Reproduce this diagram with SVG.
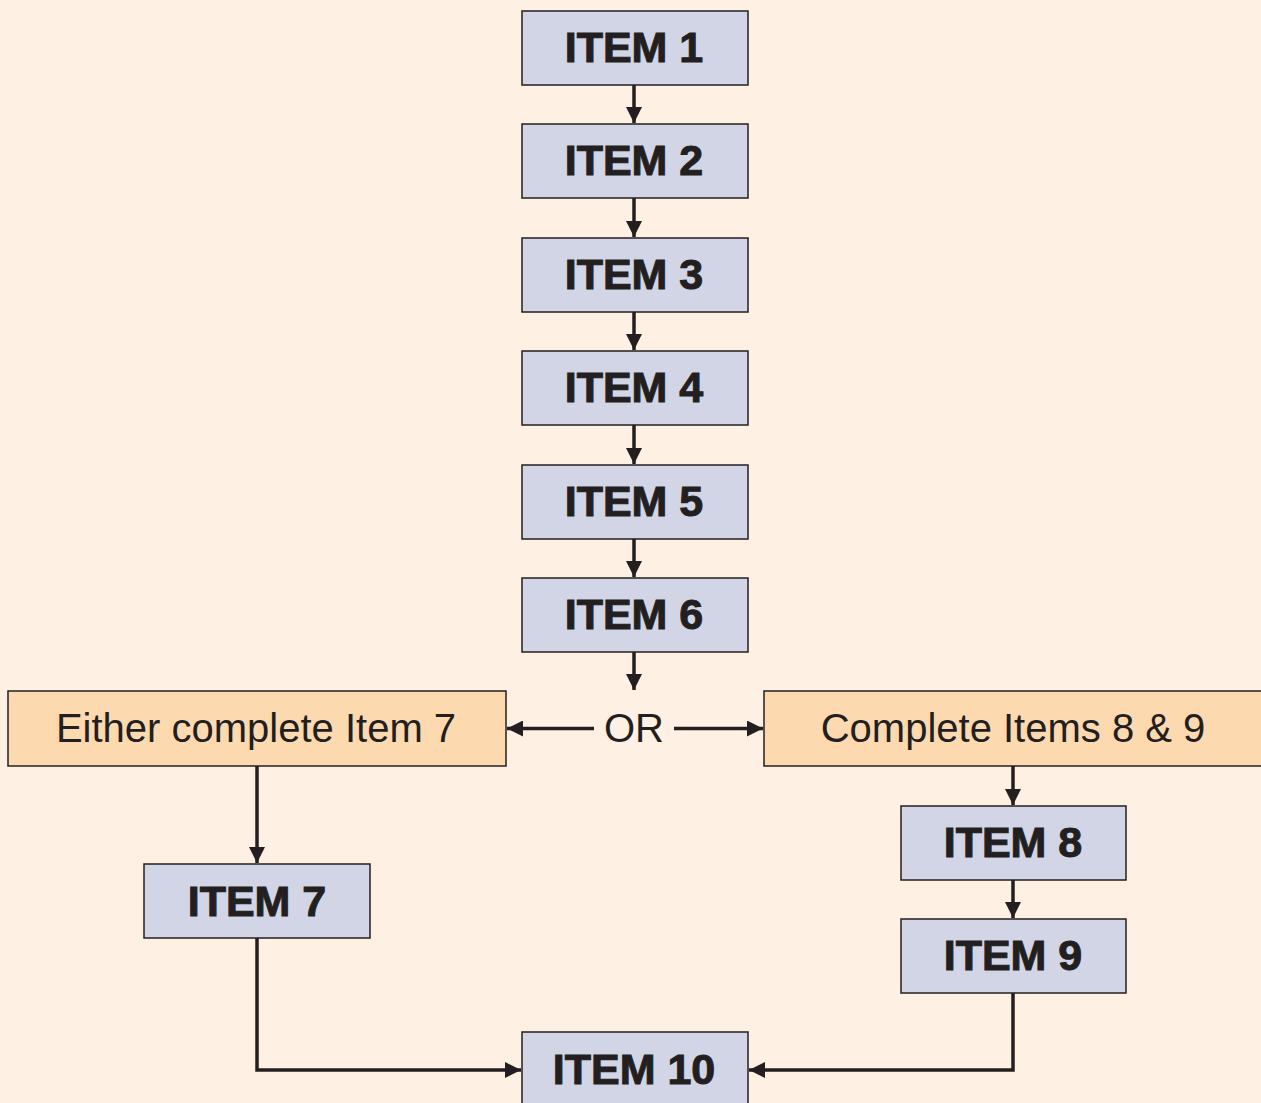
<svg xmlns="http://www.w3.org/2000/svg" width="1261" height="1103" viewBox="0 0 1261 1103">
<style>
.item rect{fill:#d1d5e6;stroke:#231f20;stroke-width:1.5}
.item text{font-family:"Liberation Sans",Arial,sans-serif;font-weight:bold;font-size:43px;fill:#231f20;stroke:#231f20;stroke-width:1;text-anchor:middle}
.choice rect{fill:#fdd9b0;stroke:#231f20;stroke-width:1.5}
.choice text, .lbl{font-family:"Liberation Sans",Arial,sans-serif;font-size:40px;fill:#231f20;text-anchor:middle}
.conn path{fill:none;stroke:#231f20;stroke-width:3.5;marker-end:url(#ah)}
</style>
<defs>
<marker id="ah" markerWidth="16" markerHeight="16" viewBox="0 0 16 16" refX="16" refY="8" orient="auto" markerUnits="userSpaceOnUse">
<path d="M0,0 L16,8 L0,16 z" fill="#231f20"/>
</marker>
</defs>
<rect width="1261" height="1103" fill="#fef1e3"/>
<g id="item1" class="item"><rect x="522" y="11" width="226" height="74"/><text x="634" y="62">ITEM 1</text></g>
<g id="item2" class="item"><rect x="522" y="124" width="226" height="74"/><text x="634" y="175">ITEM 2</text></g>
<g id="item3" class="item"><rect x="522" y="238" width="226" height="74"/><text x="634" y="289">ITEM 3</text></g>
<g id="item4" class="item"><rect x="522" y="351" width="226" height="74"/><text x="634" y="402">ITEM 4</text></g>
<g id="item5" class="item"><rect x="522" y="465" width="226" height="74"/><text x="634" y="516">ITEM 5</text></g>
<g id="item6" class="item"><rect x="522" y="578" width="226" height="74"/><text x="634" y="629">ITEM 6</text></g>
<g id="either" class="choice"><rect x="8" y="691" width="498" height="75"/><text x="256" y="742">Either complete Item 7</text></g>
<g id="complete89" class="choice"><rect x="764" y="691" width="510" height="75"/><text x="1013" y="742">Complete Items 8 &amp; 9</text></g>
<g id="or"><text class="lbl" x="634" y="742">OR</text></g>
<g id="item7" class="item"><rect x="144" y="864" width="226" height="74"/><text x="257" y="916">ITEM 7</text></g>
<g id="item8" class="item"><rect x="901" y="806" width="225" height="74"/><text x="1013" y="857">ITEM 8</text></g>
<g id="item9" class="item"><rect x="901" y="919" width="225" height="74"/><text x="1013" y="970">ITEM 9</text></g>
<g id="item10" class="item"><rect x="522" y="1032" width="226" height="80"/><text x="634" y="1084">ITEM 10</text></g>
<g id="connectors" class="conn">
<path d="M634,85 V123"/>
<path d="M634,198 V237"/>
<path d="M634,312 V350"/>
<path d="M634,425 V464"/>
<path d="M634,539 V577"/>
<path d="M634,652 V690"/>
<path d="M594,728.5 H507"/>
<path d="M674,728.5 H763"/>
<path d="M257,766 V863"/>
<path d="M1013,766 V805"/>
<path d="M1013,880 V918"/>
<path d="M257,938 V1070 H521"/>
<path d="M1013,993 V1070 H749"/>
</g>
</svg>
